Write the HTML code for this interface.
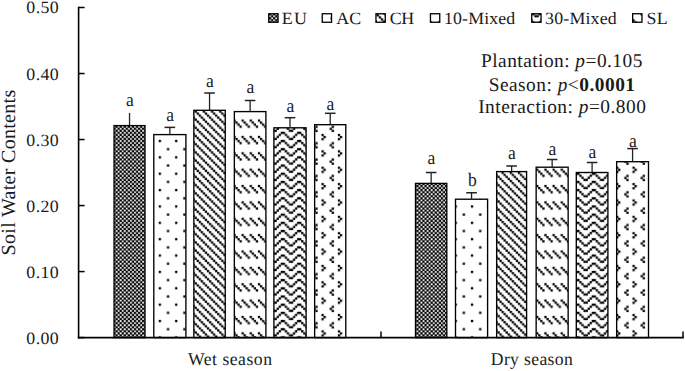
<!DOCTYPE html><html><head><meta charset="utf-8"><style>html,body{margin:0;padding:0;background:#fff;}body{width:685px;height:371px;overflow:hidden;}</style></head><body><svg width="685" height="371" viewBox="0 0 685 371" style="display:block">
<defs>
<pattern id="pEU" patternUnits="userSpaceOnUse" width="2" height="2" patternTransform="translate(3.05,0.89) scale(2.046)"><rect width="2" height="2" fill="#fff"/><g fill="#000"><rect x="-2.06" y="-2.06" width="1.12" height="1.12"/><rect x="-2.06" y="-0.06" width="1.12" height="1.12"/><rect x="-2.06" y="1.94" width="1.12" height="1.12"/><rect x="-0.06" y="-2.06" width="1.12" height="1.12"/><rect x="-0.06" y="-0.06" width="1.12" height="1.12"/><rect x="-0.06" y="1.94" width="1.12" height="1.12"/><rect x="1.94" y="-2.06" width="1.12" height="1.12"/><rect x="1.94" y="-0.06" width="1.12" height="1.12"/><rect x="1.94" y="1.94" width="1.12" height="1.12"/><rect x="-1.06" y="-1.06" width="1.12" height="1.12"/><rect x="-1.06" y="0.94" width="1.12" height="1.12"/><rect x="-1.06" y="2.94" width="1.12" height="1.12"/><rect x="0.94" y="-1.06" width="1.12" height="1.12"/><rect x="0.94" y="0.94" width="1.12" height="1.12"/><rect x="0.94" y="2.94" width="1.12" height="1.12"/><rect x="2.94" y="-1.06" width="1.12" height="1.12"/><rect x="2.94" y="0.94" width="1.12" height="1.12"/><rect x="2.94" y="2.94" width="1.12" height="1.12"/></g></pattern>
<pattern id="pAC" patternUnits="userSpaceOnUse" width="8" height="8" patternTransform="translate(11.52,9.02) scale(2.046)"><rect width="8" height="8" fill="#fff"/><g fill="#000"><rect x="-8.06" y="-8.06" width="1.12" height="1.12"/><rect x="-8.06" y="-0.06" width="1.12" height="1.12"/><rect x="-8.06" y="7.94" width="1.12" height="1.12"/><rect x="-0.06" y="-8.06" width="1.12" height="1.12"/><rect x="-0.06" y="-0.06" width="1.12" height="1.12"/><rect x="-0.06" y="7.94" width="1.12" height="1.12"/><rect x="7.94" y="-8.06" width="1.12" height="1.12"/><rect x="7.94" y="-0.06" width="1.12" height="1.12"/><rect x="7.94" y="7.94" width="1.12" height="1.12"/><rect x="-4.0600000000000005" y="-4.0600000000000005" width="1.12" height="1.12"/><rect x="-4.0600000000000005" y="3.94" width="1.12" height="1.12"/><rect x="-4.0600000000000005" y="11.94" width="1.12" height="1.12"/><rect x="3.94" y="-4.0600000000000005" width="1.12" height="1.12"/><rect x="3.94" y="3.94" width="1.12" height="1.12"/><rect x="3.94" y="11.94" width="1.12" height="1.12"/><rect x="11.94" y="-4.0600000000000005" width="1.12" height="1.12"/><rect x="11.94" y="3.94" width="1.12" height="1.12"/><rect x="11.94" y="11.94" width="1.12" height="1.12"/></g></pattern>
<pattern id="pCH" patternUnits="userSpaceOnUse" width="4" height="4" patternTransform="translate(2.39,0) scale(2.046)"><rect width="4" height="4" fill="#fff"/><g fill="#000"><rect x="-4.06" y="-4.06" width="1.12" height="1.12"/><rect x="-4.06" y="-0.06" width="1.12" height="1.12"/><rect x="-4.06" y="3.94" width="1.12" height="1.12"/><rect x="-0.06" y="-4.06" width="1.12" height="1.12"/><rect x="-0.06" y="-0.06" width="1.12" height="1.12"/><rect x="-0.06" y="3.94" width="1.12" height="1.12"/><rect x="3.94" y="-4.06" width="1.12" height="1.12"/><rect x="3.94" y="-0.06" width="1.12" height="1.12"/><rect x="3.94" y="3.94" width="1.12" height="1.12"/><rect x="-3.06" y="-3.06" width="1.12" height="1.12"/><rect x="-3.06" y="0.94" width="1.12" height="1.12"/><rect x="-3.06" y="4.9399999999999995" width="1.12" height="1.12"/><rect x="0.94" y="-3.06" width="1.12" height="1.12"/><rect x="0.94" y="0.94" width="1.12" height="1.12"/><rect x="0.94" y="4.9399999999999995" width="1.12" height="1.12"/><rect x="4.9399999999999995" y="-3.06" width="1.12" height="1.12"/><rect x="4.9399999999999995" y="0.94" width="1.12" height="1.12"/><rect x="4.9399999999999995" y="4.9399999999999995" width="1.12" height="1.12"/><rect x="-2.06" y="-2.06" width="1.12" height="1.12"/><rect x="-2.06" y="1.94" width="1.12" height="1.12"/><rect x="-2.06" y="5.9399999999999995" width="1.12" height="1.12"/><rect x="1.94" y="-2.06" width="1.12" height="1.12"/><rect x="1.94" y="1.94" width="1.12" height="1.12"/><rect x="1.94" y="5.9399999999999995" width="1.12" height="1.12"/><rect x="5.9399999999999995" y="-2.06" width="1.12" height="1.12"/><rect x="5.9399999999999995" y="1.94" width="1.12" height="1.12"/><rect x="5.9399999999999995" y="5.9399999999999995" width="1.12" height="1.12"/><rect x="-1.06" y="-1.06" width="1.12" height="1.12"/><rect x="-1.06" y="2.94" width="1.12" height="1.12"/><rect x="-1.06" y="6.9399999999999995" width="1.12" height="1.12"/><rect x="2.94" y="-1.06" width="1.12" height="1.12"/><rect x="2.94" y="2.94" width="1.12" height="1.12"/><rect x="2.94" y="6.9399999999999995" width="1.12" height="1.12"/><rect x="6.9399999999999995" y="-1.06" width="1.12" height="1.12"/><rect x="6.9399999999999995" y="2.94" width="1.12" height="1.12"/><rect x="6.9399999999999995" y="6.9399999999999995" width="1.12" height="1.12"/></g></pattern>
<pattern id="p10" patternUnits="userSpaceOnUse" width="8" height="8" patternTransform="translate(12.48,4.99) scale(2.046)"><rect width="8" height="8" fill="#fff"/><g fill="#000"><rect x="-8.06" y="-8.06" width="1.12" height="1.12"/><rect x="-8.06" y="-0.06" width="1.12" height="1.12"/><rect x="-8.06" y="7.94" width="1.12" height="1.12"/><rect x="-0.06" y="-8.06" width="1.12" height="1.12"/><rect x="-0.06" y="-0.06" width="1.12" height="1.12"/><rect x="-0.06" y="7.94" width="1.12" height="1.12"/><rect x="7.94" y="-8.06" width="1.12" height="1.12"/><rect x="7.94" y="-0.06" width="1.12" height="1.12"/><rect x="7.94" y="7.94" width="1.12" height="1.12"/><rect x="-7.0600000000000005" y="-7.0600000000000005" width="1.12" height="1.12"/><rect x="-7.0600000000000005" y="0.94" width="1.12" height="1.12"/><rect x="-7.0600000000000005" y="8.94" width="1.12" height="1.12"/><rect x="0.94" y="-7.0600000000000005" width="1.12" height="1.12"/><rect x="0.94" y="0.94" width="1.12" height="1.12"/><rect x="0.94" y="8.94" width="1.12" height="1.12"/><rect x="8.94" y="-7.0600000000000005" width="1.12" height="1.12"/><rect x="8.94" y="0.94" width="1.12" height="1.12"/><rect x="8.94" y="8.94" width="1.12" height="1.12"/><rect x="-6.0600000000000005" y="-6.0600000000000005" width="1.12" height="1.12"/><rect x="-6.0600000000000005" y="1.94" width="1.12" height="1.12"/><rect x="-6.0600000000000005" y="9.94" width="1.12" height="1.12"/><rect x="1.94" y="-6.0600000000000005" width="1.12" height="1.12"/><rect x="1.94" y="1.94" width="1.12" height="1.12"/><rect x="1.94" y="9.94" width="1.12" height="1.12"/><rect x="9.94" y="-6.0600000000000005" width="1.12" height="1.12"/><rect x="9.94" y="1.94" width="1.12" height="1.12"/><rect x="9.94" y="9.94" width="1.12" height="1.12"/><rect x="-5.0600000000000005" y="-5.0600000000000005" width="1.12" height="1.12"/><rect x="-5.0600000000000005" y="2.94" width="1.12" height="1.12"/><rect x="-5.0600000000000005" y="10.94" width="1.12" height="1.12"/><rect x="2.94" y="-5.0600000000000005" width="1.12" height="1.12"/><rect x="2.94" y="2.94" width="1.12" height="1.12"/><rect x="2.94" y="10.94" width="1.12" height="1.12"/><rect x="10.94" y="-5.0600000000000005" width="1.12" height="1.12"/><rect x="10.94" y="2.94" width="1.12" height="1.12"/><rect x="10.94" y="10.94" width="1.12" height="1.12"/><rect x="-4.0600000000000005" y="-8.06" width="1.12" height="1.12"/><rect x="-4.0600000000000005" y="-0.06" width="1.12" height="1.12"/><rect x="-4.0600000000000005" y="7.94" width="1.12" height="1.12"/><rect x="3.94" y="-8.06" width="1.12" height="1.12"/><rect x="3.94" y="-0.06" width="1.12" height="1.12"/><rect x="3.94" y="7.94" width="1.12" height="1.12"/><rect x="11.94" y="-8.06" width="1.12" height="1.12"/><rect x="11.94" y="-0.06" width="1.12" height="1.12"/><rect x="11.94" y="7.94" width="1.12" height="1.12"/><rect x="-3.0599999999999996" y="-7.0600000000000005" width="1.12" height="1.12"/><rect x="-3.0599999999999996" y="0.94" width="1.12" height="1.12"/><rect x="-3.0599999999999996" y="8.94" width="1.12" height="1.12"/><rect x="4.94" y="-7.0600000000000005" width="1.12" height="1.12"/><rect x="4.94" y="0.94" width="1.12" height="1.12"/><rect x="4.94" y="8.94" width="1.12" height="1.12"/><rect x="12.940000000000001" y="-7.0600000000000005" width="1.12" height="1.12"/><rect x="12.940000000000001" y="0.94" width="1.12" height="1.12"/><rect x="12.940000000000001" y="8.94" width="1.12" height="1.12"/><rect x="-2.0599999999999996" y="-6.0600000000000005" width="1.12" height="1.12"/><rect x="-2.0599999999999996" y="1.94" width="1.12" height="1.12"/><rect x="-2.0599999999999996" y="9.94" width="1.12" height="1.12"/><rect x="5.94" y="-6.0600000000000005" width="1.12" height="1.12"/><rect x="5.94" y="1.94" width="1.12" height="1.12"/><rect x="5.94" y="9.94" width="1.12" height="1.12"/><rect x="13.940000000000001" y="-6.0600000000000005" width="1.12" height="1.12"/><rect x="13.940000000000001" y="1.94" width="1.12" height="1.12"/><rect x="13.940000000000001" y="9.94" width="1.12" height="1.12"/><rect x="-1.0599999999999996" y="-5.0600000000000005" width="1.12" height="1.12"/><rect x="-1.0599999999999996" y="2.94" width="1.12" height="1.12"/><rect x="-1.0599999999999996" y="10.94" width="1.12" height="1.12"/><rect x="6.94" y="-5.0600000000000005" width="1.12" height="1.12"/><rect x="6.94" y="2.94" width="1.12" height="1.12"/><rect x="6.94" y="10.94" width="1.12" height="1.12"/><rect x="14.940000000000001" y="-5.0600000000000005" width="1.12" height="1.12"/><rect x="14.940000000000001" y="2.94" width="1.12" height="1.12"/><rect x="14.940000000000001" y="10.94" width="1.12" height="1.12"/></g></pattern>
<pattern id="p30" patternUnits="userSpaceOnUse" width="8" height="4" patternTransform="translate(2.54,0.88) scale(2.046)"><rect width="8" height="4" fill="#fff"/><g fill="#000"><rect x="-8.06" y="-4.06" width="1.12" height="1.12"/><rect x="-8.06" y="-0.06" width="1.12" height="1.12"/><rect x="-8.06" y="3.94" width="1.12" height="1.12"/><rect x="-0.06" y="-4.06" width="1.12" height="1.12"/><rect x="-0.06" y="-0.06" width="1.12" height="1.12"/><rect x="-0.06" y="3.94" width="1.12" height="1.12"/><rect x="7.94" y="-4.06" width="1.12" height="1.12"/><rect x="7.94" y="-0.06" width="1.12" height="1.12"/><rect x="7.94" y="3.94" width="1.12" height="1.12"/><rect x="-7.0600000000000005" y="-4.06" width="1.12" height="1.12"/><rect x="-7.0600000000000005" y="-0.06" width="1.12" height="1.12"/><rect x="-7.0600000000000005" y="3.94" width="1.12" height="1.12"/><rect x="0.94" y="-4.06" width="1.12" height="1.12"/><rect x="0.94" y="-0.06" width="1.12" height="1.12"/><rect x="0.94" y="3.94" width="1.12" height="1.12"/><rect x="8.94" y="-4.06" width="1.12" height="1.12"/><rect x="8.94" y="-0.06" width="1.12" height="1.12"/><rect x="8.94" y="3.94" width="1.12" height="1.12"/><rect x="-6.0600000000000005" y="-3.06" width="1.12" height="1.12"/><rect x="-6.0600000000000005" y="0.94" width="1.12" height="1.12"/><rect x="-6.0600000000000005" y="4.9399999999999995" width="1.12" height="1.12"/><rect x="1.94" y="-3.06" width="1.12" height="1.12"/><rect x="1.94" y="0.94" width="1.12" height="1.12"/><rect x="1.94" y="4.9399999999999995" width="1.12" height="1.12"/><rect x="9.94" y="-3.06" width="1.12" height="1.12"/><rect x="9.94" y="0.94" width="1.12" height="1.12"/><rect x="9.94" y="4.9399999999999995" width="1.12" height="1.12"/><rect x="-5.0600000000000005" y="-2.06" width="1.12" height="1.12"/><rect x="-5.0600000000000005" y="1.94" width="1.12" height="1.12"/><rect x="-5.0600000000000005" y="5.9399999999999995" width="1.12" height="1.12"/><rect x="2.94" y="-2.06" width="1.12" height="1.12"/><rect x="2.94" y="1.94" width="1.12" height="1.12"/><rect x="2.94" y="5.9399999999999995" width="1.12" height="1.12"/><rect x="10.94" y="-2.06" width="1.12" height="1.12"/><rect x="10.94" y="1.94" width="1.12" height="1.12"/><rect x="10.94" y="5.9399999999999995" width="1.12" height="1.12"/><rect x="-4.0600000000000005" y="-1.06" width="1.12" height="1.12"/><rect x="-4.0600000000000005" y="2.94" width="1.12" height="1.12"/><rect x="-4.0600000000000005" y="6.9399999999999995" width="1.12" height="1.12"/><rect x="3.94" y="-1.06" width="1.12" height="1.12"/><rect x="3.94" y="2.94" width="1.12" height="1.12"/><rect x="3.94" y="6.9399999999999995" width="1.12" height="1.12"/><rect x="11.94" y="-1.06" width="1.12" height="1.12"/><rect x="11.94" y="2.94" width="1.12" height="1.12"/><rect x="11.94" y="6.9399999999999995" width="1.12" height="1.12"/><rect x="-3.0599999999999996" y="-1.06" width="1.12" height="1.12"/><rect x="-3.0599999999999996" y="2.94" width="1.12" height="1.12"/><rect x="-3.0599999999999996" y="6.9399999999999995" width="1.12" height="1.12"/><rect x="4.94" y="-1.06" width="1.12" height="1.12"/><rect x="4.94" y="2.94" width="1.12" height="1.12"/><rect x="4.94" y="6.9399999999999995" width="1.12" height="1.12"/><rect x="12.940000000000001" y="-1.06" width="1.12" height="1.12"/><rect x="12.940000000000001" y="2.94" width="1.12" height="1.12"/><rect x="12.940000000000001" y="6.9399999999999995" width="1.12" height="1.12"/><rect x="-2.0599999999999996" y="-2.06" width="1.12" height="1.12"/><rect x="-2.0599999999999996" y="1.94" width="1.12" height="1.12"/><rect x="-2.0599999999999996" y="5.9399999999999995" width="1.12" height="1.12"/><rect x="5.94" y="-2.06" width="1.12" height="1.12"/><rect x="5.94" y="1.94" width="1.12" height="1.12"/><rect x="5.94" y="5.9399999999999995" width="1.12" height="1.12"/><rect x="13.940000000000001" y="-2.06" width="1.12" height="1.12"/><rect x="13.940000000000001" y="1.94" width="1.12" height="1.12"/><rect x="13.940000000000001" y="5.9399999999999995" width="1.12" height="1.12"/><rect x="-1.0599999999999996" y="-3.06" width="1.12" height="1.12"/><rect x="-1.0599999999999996" y="0.94" width="1.12" height="1.12"/><rect x="-1.0599999999999996" y="4.9399999999999995" width="1.12" height="1.12"/><rect x="6.94" y="-3.06" width="1.12" height="1.12"/><rect x="6.94" y="0.94" width="1.12" height="1.12"/><rect x="6.94" y="4.9399999999999995" width="1.12" height="1.12"/><rect x="14.940000000000001" y="-3.06" width="1.12" height="1.12"/><rect x="14.940000000000001" y="0.94" width="1.12" height="1.12"/><rect x="14.940000000000001" y="4.9399999999999995" width="1.12" height="1.12"/></g></pattern>
<pattern id="pSL" patternUnits="userSpaceOnUse" width="8" height="8" patternTransform="translate(10.59,3.06) scale(2.046)"><rect width="8" height="8" fill="#fff"/><g fill="#000"><rect x="-8.06" y="-8.06" width="1.12" height="1.12"/><rect x="-8.06" y="-0.06" width="1.12" height="1.12"/><rect x="-8.06" y="7.94" width="1.12" height="1.12"/><rect x="-0.06" y="-8.06" width="1.12" height="1.12"/><rect x="-0.06" y="-0.06" width="1.12" height="1.12"/><rect x="-0.06" y="7.94" width="1.12" height="1.12"/><rect x="7.94" y="-8.06" width="1.12" height="1.12"/><rect x="7.94" y="-0.06" width="1.12" height="1.12"/><rect x="7.94" y="7.94" width="1.12" height="1.12"/><rect x="-7.0600000000000005" y="-7.0600000000000005" width="1.12" height="1.12"/><rect x="-7.0600000000000005" y="0.94" width="1.12" height="1.12"/><rect x="-7.0600000000000005" y="8.94" width="1.12" height="1.12"/><rect x="0.94" y="-7.0600000000000005" width="1.12" height="1.12"/><rect x="0.94" y="0.94" width="1.12" height="1.12"/><rect x="0.94" y="8.94" width="1.12" height="1.12"/><rect x="8.94" y="-7.0600000000000005" width="1.12" height="1.12"/><rect x="8.94" y="0.94" width="1.12" height="1.12"/><rect x="8.94" y="8.94" width="1.12" height="1.12"/><rect x="-8.06" y="-6.0600000000000005" width="1.12" height="1.12"/><rect x="-8.06" y="1.94" width="1.12" height="1.12"/><rect x="-8.06" y="9.94" width="1.12" height="1.12"/><rect x="-0.06" y="-6.0600000000000005" width="1.12" height="1.12"/><rect x="-0.06" y="1.94" width="1.12" height="1.12"/><rect x="-0.06" y="9.94" width="1.12" height="1.12"/><rect x="7.94" y="-6.0600000000000005" width="1.12" height="1.12"/><rect x="7.94" y="1.94" width="1.12" height="1.12"/><rect x="7.94" y="9.94" width="1.12" height="1.12"/><rect x="-3.0599999999999996" y="-4.0600000000000005" width="1.12" height="1.12"/><rect x="-3.0599999999999996" y="3.94" width="1.12" height="1.12"/><rect x="-3.0599999999999996" y="11.94" width="1.12" height="1.12"/><rect x="4.94" y="-4.0600000000000005" width="1.12" height="1.12"/><rect x="4.94" y="3.94" width="1.12" height="1.12"/><rect x="4.94" y="11.94" width="1.12" height="1.12"/><rect x="12.940000000000001" y="-4.0600000000000005" width="1.12" height="1.12"/><rect x="12.940000000000001" y="3.94" width="1.12" height="1.12"/><rect x="12.940000000000001" y="11.94" width="1.12" height="1.12"/><rect x="-4.0600000000000005" y="-3.0599999999999996" width="1.12" height="1.12"/><rect x="-4.0600000000000005" y="4.94" width="1.12" height="1.12"/><rect x="-4.0600000000000005" y="12.940000000000001" width="1.12" height="1.12"/><rect x="3.94" y="-3.0599999999999996" width="1.12" height="1.12"/><rect x="3.94" y="4.94" width="1.12" height="1.12"/><rect x="3.94" y="12.940000000000001" width="1.12" height="1.12"/><rect x="11.94" y="-3.0599999999999996" width="1.12" height="1.12"/><rect x="11.94" y="4.94" width="1.12" height="1.12"/><rect x="11.94" y="12.940000000000001" width="1.12" height="1.12"/><rect x="-3.0599999999999996" y="-2.0599999999999996" width="1.12" height="1.12"/><rect x="-3.0599999999999996" y="5.94" width="1.12" height="1.12"/><rect x="-3.0599999999999996" y="13.940000000000001" width="1.12" height="1.12"/><rect x="4.94" y="-2.0599999999999996" width="1.12" height="1.12"/><rect x="4.94" y="5.94" width="1.12" height="1.12"/><rect x="4.94" y="13.940000000000001" width="1.12" height="1.12"/><rect x="12.940000000000001" y="-2.0599999999999996" width="1.12" height="1.12"/><rect x="12.940000000000001" y="5.94" width="1.12" height="1.12"/><rect x="12.940000000000001" y="13.940000000000001" width="1.12" height="1.12"/></g></pattern>
<pattern id="pEUd" patternUnits="userSpaceOnUse" width="2" height="2" patternTransform="translate(3.05,0.89) scale(2.046)"><rect width="2" height="2" fill="#fff"/><g fill="#000"><rect x="-2.06" y="-2.06" width="1.12" height="1.12"/><rect x="-2.06" y="-0.06" width="1.12" height="1.12"/><rect x="-2.06" y="1.94" width="1.12" height="1.12"/><rect x="-0.06" y="-2.06" width="1.12" height="1.12"/><rect x="-0.06" y="-0.06" width="1.12" height="1.12"/><rect x="-0.06" y="1.94" width="1.12" height="1.12"/><rect x="1.94" y="-2.06" width="1.12" height="1.12"/><rect x="1.94" y="-0.06" width="1.12" height="1.12"/><rect x="1.94" y="1.94" width="1.12" height="1.12"/><rect x="-1.06" y="-1.06" width="1.12" height="1.12"/><rect x="-1.06" y="0.94" width="1.12" height="1.12"/><rect x="-1.06" y="2.94" width="1.12" height="1.12"/><rect x="0.94" y="-1.06" width="1.12" height="1.12"/><rect x="0.94" y="0.94" width="1.12" height="1.12"/><rect x="0.94" y="2.94" width="1.12" height="1.12"/><rect x="2.94" y="-1.06" width="1.12" height="1.12"/><rect x="2.94" y="0.94" width="1.12" height="1.12"/><rect x="2.94" y="2.94" width="1.12" height="1.12"/></g></pattern>
<pattern id="pACd" patternUnits="userSpaceOnUse" width="8" height="8" patternTransform="translate(12.719999999999999,9.02) scale(2.046)"><rect width="8" height="8" fill="#fff"/><g fill="#000"><rect x="-8.06" y="-8.06" width="1.12" height="1.12"/><rect x="-8.06" y="-0.06" width="1.12" height="1.12"/><rect x="-8.06" y="7.94" width="1.12" height="1.12"/><rect x="-0.06" y="-8.06" width="1.12" height="1.12"/><rect x="-0.06" y="-0.06" width="1.12" height="1.12"/><rect x="-0.06" y="7.94" width="1.12" height="1.12"/><rect x="7.94" y="-8.06" width="1.12" height="1.12"/><rect x="7.94" y="-0.06" width="1.12" height="1.12"/><rect x="7.94" y="7.94" width="1.12" height="1.12"/><rect x="-4.0600000000000005" y="-4.0600000000000005" width="1.12" height="1.12"/><rect x="-4.0600000000000005" y="3.94" width="1.12" height="1.12"/><rect x="-4.0600000000000005" y="11.94" width="1.12" height="1.12"/><rect x="3.94" y="-4.0600000000000005" width="1.12" height="1.12"/><rect x="3.94" y="3.94" width="1.12" height="1.12"/><rect x="3.94" y="11.94" width="1.12" height="1.12"/><rect x="11.94" y="-4.0600000000000005" width="1.12" height="1.12"/><rect x="11.94" y="3.94" width="1.12" height="1.12"/><rect x="11.94" y="11.94" width="1.12" height="1.12"/></g></pattern>
<pattern id="pCHd" patternUnits="userSpaceOnUse" width="4" height="4" patternTransform="translate(2.39,0) scale(2.046)"><rect width="4" height="4" fill="#fff"/><g fill="#000"><rect x="-4.06" y="-4.06" width="1.12" height="1.12"/><rect x="-4.06" y="-0.06" width="1.12" height="1.12"/><rect x="-4.06" y="3.94" width="1.12" height="1.12"/><rect x="-0.06" y="-4.06" width="1.12" height="1.12"/><rect x="-0.06" y="-0.06" width="1.12" height="1.12"/><rect x="-0.06" y="3.94" width="1.12" height="1.12"/><rect x="3.94" y="-4.06" width="1.12" height="1.12"/><rect x="3.94" y="-0.06" width="1.12" height="1.12"/><rect x="3.94" y="3.94" width="1.12" height="1.12"/><rect x="-3.06" y="-3.06" width="1.12" height="1.12"/><rect x="-3.06" y="0.94" width="1.12" height="1.12"/><rect x="-3.06" y="4.9399999999999995" width="1.12" height="1.12"/><rect x="0.94" y="-3.06" width="1.12" height="1.12"/><rect x="0.94" y="0.94" width="1.12" height="1.12"/><rect x="0.94" y="4.9399999999999995" width="1.12" height="1.12"/><rect x="4.9399999999999995" y="-3.06" width="1.12" height="1.12"/><rect x="4.9399999999999995" y="0.94" width="1.12" height="1.12"/><rect x="4.9399999999999995" y="4.9399999999999995" width="1.12" height="1.12"/><rect x="-2.06" y="-2.06" width="1.12" height="1.12"/><rect x="-2.06" y="1.94" width="1.12" height="1.12"/><rect x="-2.06" y="5.9399999999999995" width="1.12" height="1.12"/><rect x="1.94" y="-2.06" width="1.12" height="1.12"/><rect x="1.94" y="1.94" width="1.12" height="1.12"/><rect x="1.94" y="5.9399999999999995" width="1.12" height="1.12"/><rect x="5.9399999999999995" y="-2.06" width="1.12" height="1.12"/><rect x="5.9399999999999995" y="1.94" width="1.12" height="1.12"/><rect x="5.9399999999999995" y="5.9399999999999995" width="1.12" height="1.12"/><rect x="-1.06" y="-1.06" width="1.12" height="1.12"/><rect x="-1.06" y="2.94" width="1.12" height="1.12"/><rect x="-1.06" y="6.9399999999999995" width="1.12" height="1.12"/><rect x="2.94" y="-1.06" width="1.12" height="1.12"/><rect x="2.94" y="2.94" width="1.12" height="1.12"/><rect x="2.94" y="6.9399999999999995" width="1.12" height="1.12"/><rect x="6.9399999999999995" y="-1.06" width="1.12" height="1.12"/><rect x="6.9399999999999995" y="2.94" width="1.12" height="1.12"/><rect x="6.9399999999999995" y="6.9399999999999995" width="1.12" height="1.12"/></g></pattern>
<pattern id="p10d" patternUnits="userSpaceOnUse" width="8" height="8" patternTransform="translate(12.48,4.99) scale(2.046)"><rect width="8" height="8" fill="#fff"/><g fill="#000"><rect x="-8.06" y="-8.06" width="1.12" height="1.12"/><rect x="-8.06" y="-0.06" width="1.12" height="1.12"/><rect x="-8.06" y="7.94" width="1.12" height="1.12"/><rect x="-0.06" y="-8.06" width="1.12" height="1.12"/><rect x="-0.06" y="-0.06" width="1.12" height="1.12"/><rect x="-0.06" y="7.94" width="1.12" height="1.12"/><rect x="7.94" y="-8.06" width="1.12" height="1.12"/><rect x="7.94" y="-0.06" width="1.12" height="1.12"/><rect x="7.94" y="7.94" width="1.12" height="1.12"/><rect x="-7.0600000000000005" y="-7.0600000000000005" width="1.12" height="1.12"/><rect x="-7.0600000000000005" y="0.94" width="1.12" height="1.12"/><rect x="-7.0600000000000005" y="8.94" width="1.12" height="1.12"/><rect x="0.94" y="-7.0600000000000005" width="1.12" height="1.12"/><rect x="0.94" y="0.94" width="1.12" height="1.12"/><rect x="0.94" y="8.94" width="1.12" height="1.12"/><rect x="8.94" y="-7.0600000000000005" width="1.12" height="1.12"/><rect x="8.94" y="0.94" width="1.12" height="1.12"/><rect x="8.94" y="8.94" width="1.12" height="1.12"/><rect x="-6.0600000000000005" y="-6.0600000000000005" width="1.12" height="1.12"/><rect x="-6.0600000000000005" y="1.94" width="1.12" height="1.12"/><rect x="-6.0600000000000005" y="9.94" width="1.12" height="1.12"/><rect x="1.94" y="-6.0600000000000005" width="1.12" height="1.12"/><rect x="1.94" y="1.94" width="1.12" height="1.12"/><rect x="1.94" y="9.94" width="1.12" height="1.12"/><rect x="9.94" y="-6.0600000000000005" width="1.12" height="1.12"/><rect x="9.94" y="1.94" width="1.12" height="1.12"/><rect x="9.94" y="9.94" width="1.12" height="1.12"/><rect x="-5.0600000000000005" y="-5.0600000000000005" width="1.12" height="1.12"/><rect x="-5.0600000000000005" y="2.94" width="1.12" height="1.12"/><rect x="-5.0600000000000005" y="10.94" width="1.12" height="1.12"/><rect x="2.94" y="-5.0600000000000005" width="1.12" height="1.12"/><rect x="2.94" y="2.94" width="1.12" height="1.12"/><rect x="2.94" y="10.94" width="1.12" height="1.12"/><rect x="10.94" y="-5.0600000000000005" width="1.12" height="1.12"/><rect x="10.94" y="2.94" width="1.12" height="1.12"/><rect x="10.94" y="10.94" width="1.12" height="1.12"/><rect x="-4.0600000000000005" y="-8.06" width="1.12" height="1.12"/><rect x="-4.0600000000000005" y="-0.06" width="1.12" height="1.12"/><rect x="-4.0600000000000005" y="7.94" width="1.12" height="1.12"/><rect x="3.94" y="-8.06" width="1.12" height="1.12"/><rect x="3.94" y="-0.06" width="1.12" height="1.12"/><rect x="3.94" y="7.94" width="1.12" height="1.12"/><rect x="11.94" y="-8.06" width="1.12" height="1.12"/><rect x="11.94" y="-0.06" width="1.12" height="1.12"/><rect x="11.94" y="7.94" width="1.12" height="1.12"/><rect x="-3.0599999999999996" y="-7.0600000000000005" width="1.12" height="1.12"/><rect x="-3.0599999999999996" y="0.94" width="1.12" height="1.12"/><rect x="-3.0599999999999996" y="8.94" width="1.12" height="1.12"/><rect x="4.94" y="-7.0600000000000005" width="1.12" height="1.12"/><rect x="4.94" y="0.94" width="1.12" height="1.12"/><rect x="4.94" y="8.94" width="1.12" height="1.12"/><rect x="12.940000000000001" y="-7.0600000000000005" width="1.12" height="1.12"/><rect x="12.940000000000001" y="0.94" width="1.12" height="1.12"/><rect x="12.940000000000001" y="8.94" width="1.12" height="1.12"/><rect x="-2.0599999999999996" y="-6.0600000000000005" width="1.12" height="1.12"/><rect x="-2.0599999999999996" y="1.94" width="1.12" height="1.12"/><rect x="-2.0599999999999996" y="9.94" width="1.12" height="1.12"/><rect x="5.94" y="-6.0600000000000005" width="1.12" height="1.12"/><rect x="5.94" y="1.94" width="1.12" height="1.12"/><rect x="5.94" y="9.94" width="1.12" height="1.12"/><rect x="13.940000000000001" y="-6.0600000000000005" width="1.12" height="1.12"/><rect x="13.940000000000001" y="1.94" width="1.12" height="1.12"/><rect x="13.940000000000001" y="9.94" width="1.12" height="1.12"/><rect x="-1.0599999999999996" y="-5.0600000000000005" width="1.12" height="1.12"/><rect x="-1.0599999999999996" y="2.94" width="1.12" height="1.12"/><rect x="-1.0599999999999996" y="10.94" width="1.12" height="1.12"/><rect x="6.94" y="-5.0600000000000005" width="1.12" height="1.12"/><rect x="6.94" y="2.94" width="1.12" height="1.12"/><rect x="6.94" y="10.94" width="1.12" height="1.12"/><rect x="14.940000000000001" y="-5.0600000000000005" width="1.12" height="1.12"/><rect x="14.940000000000001" y="2.94" width="1.12" height="1.12"/><rect x="14.940000000000001" y="10.94" width="1.12" height="1.12"/></g></pattern>
<pattern id="p30d" patternUnits="userSpaceOnUse" width="8" height="4" patternTransform="translate(2.54,0.88) scale(2.046)"><rect width="8" height="4" fill="#fff"/><g fill="#000"><rect x="-8.06" y="-4.06" width="1.12" height="1.12"/><rect x="-8.06" y="-0.06" width="1.12" height="1.12"/><rect x="-8.06" y="3.94" width="1.12" height="1.12"/><rect x="-0.06" y="-4.06" width="1.12" height="1.12"/><rect x="-0.06" y="-0.06" width="1.12" height="1.12"/><rect x="-0.06" y="3.94" width="1.12" height="1.12"/><rect x="7.94" y="-4.06" width="1.12" height="1.12"/><rect x="7.94" y="-0.06" width="1.12" height="1.12"/><rect x="7.94" y="3.94" width="1.12" height="1.12"/><rect x="-7.0600000000000005" y="-4.06" width="1.12" height="1.12"/><rect x="-7.0600000000000005" y="-0.06" width="1.12" height="1.12"/><rect x="-7.0600000000000005" y="3.94" width="1.12" height="1.12"/><rect x="0.94" y="-4.06" width="1.12" height="1.12"/><rect x="0.94" y="-0.06" width="1.12" height="1.12"/><rect x="0.94" y="3.94" width="1.12" height="1.12"/><rect x="8.94" y="-4.06" width="1.12" height="1.12"/><rect x="8.94" y="-0.06" width="1.12" height="1.12"/><rect x="8.94" y="3.94" width="1.12" height="1.12"/><rect x="-6.0600000000000005" y="-3.06" width="1.12" height="1.12"/><rect x="-6.0600000000000005" y="0.94" width="1.12" height="1.12"/><rect x="-6.0600000000000005" y="4.9399999999999995" width="1.12" height="1.12"/><rect x="1.94" y="-3.06" width="1.12" height="1.12"/><rect x="1.94" y="0.94" width="1.12" height="1.12"/><rect x="1.94" y="4.9399999999999995" width="1.12" height="1.12"/><rect x="9.94" y="-3.06" width="1.12" height="1.12"/><rect x="9.94" y="0.94" width="1.12" height="1.12"/><rect x="9.94" y="4.9399999999999995" width="1.12" height="1.12"/><rect x="-5.0600000000000005" y="-2.06" width="1.12" height="1.12"/><rect x="-5.0600000000000005" y="1.94" width="1.12" height="1.12"/><rect x="-5.0600000000000005" y="5.9399999999999995" width="1.12" height="1.12"/><rect x="2.94" y="-2.06" width="1.12" height="1.12"/><rect x="2.94" y="1.94" width="1.12" height="1.12"/><rect x="2.94" y="5.9399999999999995" width="1.12" height="1.12"/><rect x="10.94" y="-2.06" width="1.12" height="1.12"/><rect x="10.94" y="1.94" width="1.12" height="1.12"/><rect x="10.94" y="5.9399999999999995" width="1.12" height="1.12"/><rect x="-4.0600000000000005" y="-1.06" width="1.12" height="1.12"/><rect x="-4.0600000000000005" y="2.94" width="1.12" height="1.12"/><rect x="-4.0600000000000005" y="6.9399999999999995" width="1.12" height="1.12"/><rect x="3.94" y="-1.06" width="1.12" height="1.12"/><rect x="3.94" y="2.94" width="1.12" height="1.12"/><rect x="3.94" y="6.9399999999999995" width="1.12" height="1.12"/><rect x="11.94" y="-1.06" width="1.12" height="1.12"/><rect x="11.94" y="2.94" width="1.12" height="1.12"/><rect x="11.94" y="6.9399999999999995" width="1.12" height="1.12"/><rect x="-3.0599999999999996" y="-1.06" width="1.12" height="1.12"/><rect x="-3.0599999999999996" y="2.94" width="1.12" height="1.12"/><rect x="-3.0599999999999996" y="6.9399999999999995" width="1.12" height="1.12"/><rect x="4.94" y="-1.06" width="1.12" height="1.12"/><rect x="4.94" y="2.94" width="1.12" height="1.12"/><rect x="4.94" y="6.9399999999999995" width="1.12" height="1.12"/><rect x="12.940000000000001" y="-1.06" width="1.12" height="1.12"/><rect x="12.940000000000001" y="2.94" width="1.12" height="1.12"/><rect x="12.940000000000001" y="6.9399999999999995" width="1.12" height="1.12"/><rect x="-2.0599999999999996" y="-2.06" width="1.12" height="1.12"/><rect x="-2.0599999999999996" y="1.94" width="1.12" height="1.12"/><rect x="-2.0599999999999996" y="5.9399999999999995" width="1.12" height="1.12"/><rect x="5.94" y="-2.06" width="1.12" height="1.12"/><rect x="5.94" y="1.94" width="1.12" height="1.12"/><rect x="5.94" y="5.9399999999999995" width="1.12" height="1.12"/><rect x="13.940000000000001" y="-2.06" width="1.12" height="1.12"/><rect x="13.940000000000001" y="1.94" width="1.12" height="1.12"/><rect x="13.940000000000001" y="5.9399999999999995" width="1.12" height="1.12"/><rect x="-1.0599999999999996" y="-3.06" width="1.12" height="1.12"/><rect x="-1.0599999999999996" y="0.94" width="1.12" height="1.12"/><rect x="-1.0599999999999996" y="4.9399999999999995" width="1.12" height="1.12"/><rect x="6.94" y="-3.06" width="1.12" height="1.12"/><rect x="6.94" y="0.94" width="1.12" height="1.12"/><rect x="6.94" y="4.9399999999999995" width="1.12" height="1.12"/><rect x="14.940000000000001" y="-3.06" width="1.12" height="1.12"/><rect x="14.940000000000001" y="0.94" width="1.12" height="1.12"/><rect x="14.940000000000001" y="4.9399999999999995" width="1.12" height="1.12"/></g></pattern>
<pattern id="pSLd" patternUnits="userSpaceOnUse" width="8" height="8" patternTransform="translate(10.59,3.06) scale(2.046)"><rect width="8" height="8" fill="#fff"/><g fill="#000"><rect x="-8.06" y="-8.06" width="1.12" height="1.12"/><rect x="-8.06" y="-0.06" width="1.12" height="1.12"/><rect x="-8.06" y="7.94" width="1.12" height="1.12"/><rect x="-0.06" y="-8.06" width="1.12" height="1.12"/><rect x="-0.06" y="-0.06" width="1.12" height="1.12"/><rect x="-0.06" y="7.94" width="1.12" height="1.12"/><rect x="7.94" y="-8.06" width="1.12" height="1.12"/><rect x="7.94" y="-0.06" width="1.12" height="1.12"/><rect x="7.94" y="7.94" width="1.12" height="1.12"/><rect x="-7.0600000000000005" y="-7.0600000000000005" width="1.12" height="1.12"/><rect x="-7.0600000000000005" y="0.94" width="1.12" height="1.12"/><rect x="-7.0600000000000005" y="8.94" width="1.12" height="1.12"/><rect x="0.94" y="-7.0600000000000005" width="1.12" height="1.12"/><rect x="0.94" y="0.94" width="1.12" height="1.12"/><rect x="0.94" y="8.94" width="1.12" height="1.12"/><rect x="8.94" y="-7.0600000000000005" width="1.12" height="1.12"/><rect x="8.94" y="0.94" width="1.12" height="1.12"/><rect x="8.94" y="8.94" width="1.12" height="1.12"/><rect x="-8.06" y="-6.0600000000000005" width="1.12" height="1.12"/><rect x="-8.06" y="1.94" width="1.12" height="1.12"/><rect x="-8.06" y="9.94" width="1.12" height="1.12"/><rect x="-0.06" y="-6.0600000000000005" width="1.12" height="1.12"/><rect x="-0.06" y="1.94" width="1.12" height="1.12"/><rect x="-0.06" y="9.94" width="1.12" height="1.12"/><rect x="7.94" y="-6.0600000000000005" width="1.12" height="1.12"/><rect x="7.94" y="1.94" width="1.12" height="1.12"/><rect x="7.94" y="9.94" width="1.12" height="1.12"/><rect x="-3.0599999999999996" y="-4.0600000000000005" width="1.12" height="1.12"/><rect x="-3.0599999999999996" y="3.94" width="1.12" height="1.12"/><rect x="-3.0599999999999996" y="11.94" width="1.12" height="1.12"/><rect x="4.94" y="-4.0600000000000005" width="1.12" height="1.12"/><rect x="4.94" y="3.94" width="1.12" height="1.12"/><rect x="4.94" y="11.94" width="1.12" height="1.12"/><rect x="12.940000000000001" y="-4.0600000000000005" width="1.12" height="1.12"/><rect x="12.940000000000001" y="3.94" width="1.12" height="1.12"/><rect x="12.940000000000001" y="11.94" width="1.12" height="1.12"/><rect x="-4.0600000000000005" y="-3.0599999999999996" width="1.12" height="1.12"/><rect x="-4.0600000000000005" y="4.94" width="1.12" height="1.12"/><rect x="-4.0600000000000005" y="12.940000000000001" width="1.12" height="1.12"/><rect x="3.94" y="-3.0599999999999996" width="1.12" height="1.12"/><rect x="3.94" y="4.94" width="1.12" height="1.12"/><rect x="3.94" y="12.940000000000001" width="1.12" height="1.12"/><rect x="11.94" y="-3.0599999999999996" width="1.12" height="1.12"/><rect x="11.94" y="4.94" width="1.12" height="1.12"/><rect x="11.94" y="12.940000000000001" width="1.12" height="1.12"/><rect x="-3.0599999999999996" y="-2.0599999999999996" width="1.12" height="1.12"/><rect x="-3.0599999999999996" y="5.94" width="1.12" height="1.12"/><rect x="-3.0599999999999996" y="13.940000000000001" width="1.12" height="1.12"/><rect x="4.94" y="-2.0599999999999996" width="1.12" height="1.12"/><rect x="4.94" y="5.94" width="1.12" height="1.12"/><rect x="4.94" y="13.940000000000001" width="1.12" height="1.12"/><rect x="12.940000000000001" y="-2.0599999999999996" width="1.12" height="1.12"/><rect x="12.940000000000001" y="5.94" width="1.12" height="1.12"/><rect x="12.940000000000001" y="13.940000000000001" width="1.12" height="1.12"/></g></pattern>
</defs>
<rect width="685" height="371" fill="#fff"/>
<rect x="114.05" y="125.60" width="30.95" height="212.00" fill="url(#pEU)" stroke="#000" stroke-width="1.35"/>
<line x1="129.53" y1="125.30" x2="129.53" y2="112.90" stroke="#222" stroke-width="1.3"/>
<rect x="153.80" y="134.60" width="32.10" height="203.00" fill="url(#pAC)" stroke="#000" stroke-width="1.35"/>
<line x1="169.85" y1="134.30" x2="169.85" y2="127.40" stroke="#222" stroke-width="1.3"/>
<line x1="164.55" y1="127.40" x2="175.15" y2="127.40" stroke="#222" stroke-width="1.5"/>
<rect x="193.85" y="110.30" width="31.40" height="227.30" fill="url(#pCH)" stroke="#000" stroke-width="1.35"/>
<line x1="209.55" y1="110.00" x2="209.55" y2="93.00" stroke="#222" stroke-width="1.3"/>
<line x1="204.25" y1="93.00" x2="214.85" y2="93.00" stroke="#222" stroke-width="1.5"/>
<rect x="234.35" y="111.60" width="31.55" height="226.00" fill="url(#p10)" stroke="#000" stroke-width="1.35"/>
<line x1="250.12" y1="111.30" x2="250.12" y2="100.50" stroke="#222" stroke-width="1.3"/>
<line x1="244.82" y1="100.50" x2="255.43" y2="100.50" stroke="#222" stroke-width="1.5"/>
<rect x="273.90" y="127.80" width="32.20" height="209.80" fill="url(#p30)" stroke="#000" stroke-width="1.35"/>
<line x1="290.00" y1="127.50" x2="290.00" y2="117.70" stroke="#222" stroke-width="1.3"/>
<line x1="284.70" y1="117.70" x2="295.30" y2="117.70" stroke="#222" stroke-width="1.5"/>
<rect x="314.65" y="124.70" width="31.15" height="212.90" fill="url(#pSL)" stroke="#000" stroke-width="1.35"/>
<line x1="330.23" y1="124.40" x2="330.23" y2="113.30" stroke="#222" stroke-width="1.3"/>
<line x1="324.93" y1="113.30" x2="335.53" y2="113.30" stroke="#222" stroke-width="1.5"/>
<rect x="415.50" y="183.40" width="31.30" height="154.20" fill="url(#pEUd)" stroke="#000" stroke-width="1.35"/>
<line x1="431.15" y1="183.10" x2="431.15" y2="172.50" stroke="#222" stroke-width="1.3"/>
<line x1="425.85" y1="172.50" x2="436.45" y2="172.50" stroke="#222" stroke-width="1.5"/>
<rect x="455.50" y="199.20" width="32.10" height="138.40" fill="url(#pACd)" stroke="#000" stroke-width="1.35"/>
<line x1="471.55" y1="198.90" x2="471.55" y2="192.75" stroke="#222" stroke-width="1.3"/>
<line x1="466.25" y1="192.75" x2="476.85" y2="192.75" stroke="#222" stroke-width="1.5"/>
<rect x="496.65" y="171.60" width="29.95" height="166.00" fill="url(#pCHd)" stroke="#000" stroke-width="1.35"/>
<line x1="511.62" y1="171.30" x2="511.62" y2="166.00" stroke="#222" stroke-width="1.3"/>
<line x1="506.32" y1="166.00" x2="516.92" y2="166.00" stroke="#222" stroke-width="1.5"/>
<rect x="536.15" y="167.20" width="32.00" height="170.40" fill="url(#p10d)" stroke="#000" stroke-width="1.35"/>
<line x1="552.15" y1="166.90" x2="552.15" y2="159.50" stroke="#222" stroke-width="1.3"/>
<line x1="546.85" y1="159.50" x2="557.45" y2="159.50" stroke="#222" stroke-width="1.5"/>
<rect x="576.30" y="172.50" width="31.60" height="165.10" fill="url(#p30d)" stroke="#000" stroke-width="1.35"/>
<line x1="592.10" y1="172.20" x2="592.10" y2="162.50" stroke="#222" stroke-width="1.3"/>
<line x1="586.80" y1="162.50" x2="597.40" y2="162.50" stroke="#222" stroke-width="1.5"/>
<rect x="616.65" y="161.70" width="31.85" height="175.90" fill="url(#pSLd)" stroke="#000" stroke-width="1.35"/>
<line x1="632.58" y1="161.40" x2="632.58" y2="148.60" stroke="#222" stroke-width="1.3"/>
<line x1="627.28" y1="148.60" x2="637.88" y2="148.60" stroke="#222" stroke-width="1.5"/>
<line x1="78.6" y1="6.70" x2="78.6" y2="338.40" stroke="#000" stroke-width="1.6"/>
<line x1="77.8" y1="337.6" x2="683.8" y2="337.6" stroke="#000" stroke-width="1.6"/>
<line x1="78.6" y1="337.60" x2="84.60" y2="337.60" stroke="#000" stroke-width="1.5"/>
<line x1="78.6" y1="271.58" x2="84.60" y2="271.58" stroke="#000" stroke-width="1.5"/>
<line x1="78.6" y1="205.56" x2="84.60" y2="205.56" stroke="#000" stroke-width="1.5"/>
<line x1="78.6" y1="139.54" x2="84.60" y2="139.54" stroke="#000" stroke-width="1.5"/>
<line x1="78.6" y1="73.52" x2="84.60" y2="73.52" stroke="#000" stroke-width="1.5"/>
<line x1="78.6" y1="7.50" x2="84.60" y2="7.50" stroke="#000" stroke-width="1.5"/>
<line x1="381.00" y1="337.6" x2="381.00" y2="331.60" stroke="#000" stroke-width="1.5"/>
<line x1="683.00" y1="337.6" x2="683.00" y2="331.60" stroke="#000" stroke-width="1.5"/>
<rect x="268.75" y="13.75" width="9.30" height="8.50" fill="url(#pEU)" stroke="#000" stroke-width="1.3"/>
<rect x="322.25" y="13.75" width="9.30" height="8.50" fill="url(#pAC)" stroke="#000" stroke-width="1.3"/>
<rect x="375.95" y="13.75" width="9.30" height="8.50" fill="url(#pCH)" stroke="#000" stroke-width="1.3"/>
<rect x="430.45" y="13.75" width="9.30" height="8.50" fill="url(#p10)" stroke="#000" stroke-width="1.3"/>
<rect x="531.75" y="13.75" width="9.30" height="8.50" fill="url(#p30)" stroke="#000" stroke-width="1.3"/>
<rect x="632.65" y="13.75" width="9.30" height="8.50" fill="url(#pSL)" stroke="#000" stroke-width="1.3"/>
<text transform="translate(26.35,344.00) scale(1.04,1)" text-rendering="geometricPrecision" font-family="Liberation Serif" font-size="17.2" letter-spacing="0.375" fill="#1a1a1a" stroke="#1a1a1a" stroke-width="0">0.00</text>
<text transform="translate(26.35,278.00) scale(1.04,1)" text-rendering="geometricPrecision" font-family="Liberation Serif" font-size="17.2" letter-spacing="0.375" fill="#1a1a1a" stroke="#1a1a1a" stroke-width="0">0.10</text>
<text transform="translate(26.35,212.00) scale(1.04,1)" text-rendering="geometricPrecision" font-family="Liberation Serif" font-size="17.2" letter-spacing="0.375" fill="#1a1a1a" stroke="#1a1a1a" stroke-width="0">0.20</text>
<text transform="translate(26.35,146.00) scale(1.04,1)" text-rendering="geometricPrecision" font-family="Liberation Serif" font-size="17.2" letter-spacing="0.375" fill="#1a1a1a" stroke="#1a1a1a" stroke-width="0">0.30</text>
<text transform="translate(26.35,80.00) scale(1.04,1)" text-rendering="geometricPrecision" font-family="Liberation Serif" font-size="17.2" letter-spacing="0.375" fill="#1a1a1a" stroke="#1a1a1a" stroke-width="0">0.40</text>
<text transform="translate(26.35,13.00) scale(1.04,1)" text-rendering="geometricPrecision" font-family="Liberation Serif" font-size="17.2" letter-spacing="0.375" fill="#1a1a1a" stroke="#1a1a1a" stroke-width="0">0.50</text>
<text transform="translate(281.78,24.00) scale(1.04,1)" text-rendering="geometricPrecision" font-family="Liberation Serif" font-size="17.2" letter-spacing="1.269" fill="#1a1a1a" stroke="#1a1a1a" stroke-width="0">EU</text>
<text transform="translate(336.17,24.00) scale(1.04,1)" text-rendering="geometricPrecision" font-family="Liberation Serif" font-size="17.2" letter-spacing="0.135" fill="#1a1a1a" stroke="#1a1a1a" stroke-width="0">AC</text>
<text transform="translate(389.82,24.00) scale(1.04,1)" text-rendering="geometricPrecision" font-family="Liberation Serif" font-size="17.2" letter-spacing="-0.413" fill="#1a1a1a" stroke="#1a1a1a" stroke-width="0">CH</text>
<text transform="translate(444.04,24.00) scale(1.04,1)" text-rendering="geometricPrecision" font-family="Liberation Serif" font-size="17.2" letter-spacing="0.100" fill="#1a1a1a" stroke="#1a1a1a" stroke-width="0">10-Mixed</text>
<text transform="translate(545.09,24.00) scale(1.04,1)" text-rendering="geometricPrecision" font-family="Liberation Serif" font-size="17.2" letter-spacing="0.148" fill="#1a1a1a" stroke="#1a1a1a" stroke-width="0">30-Mixed</text>
<text transform="translate(646.53,24.00) scale(1.04,1)" text-rendering="geometricPrecision" font-family="Liberation Serif" font-size="17.2" letter-spacing="0.202" fill="#1a1a1a" stroke="#1a1a1a" stroke-width="0">SL</text>
<text transform="translate(188.00,365.00) scale(0.98,1)" text-rendering="geometricPrecision" font-family="Liberation Serif" font-size="18.0" letter-spacing="0.518" fill="#1a1a1a" stroke="#1a1a1a" stroke-width="0">Wet season</text>
<text transform="translate(490.81,365.00) scale(0.98,1)" text-rendering="geometricPrecision" font-family="Liberation Serif" font-size="18.0" letter-spacing="0.345" fill="#1a1a1a" stroke="#1a1a1a" stroke-width="0">Dry season</text>
<text transform="translate(481.00,67.00) scale(1.0,1)" text-rendering="geometricPrecision" font-family="Liberation Serif" font-size="19.4" letter-spacing="0.457" fill="#1a1a1a" stroke="#1a1a1a" stroke-width="0">Plantation: <tspan font-style="italic">p</tspan>=0.105</text>
<text transform="translate(488.65,91.00) scale(1.0,1)" text-rendering="geometricPrecision" font-family="Liberation Serif" font-size="19.4" letter-spacing="0.482" fill="#1a1a1a" stroke="#1a1a1a" stroke-width="0">Season: <tspan font-style="italic">p</tspan>&lt;<tspan font-weight="bold">0.0001</tspan></text>
<text transform="translate(478.15,113.00) scale(1.0,1)" text-rendering="geometricPrecision" font-family="Liberation Serif" font-size="19.4" letter-spacing="0.489" fill="#1a1a1a" stroke="#1a1a1a" stroke-width="0">Interaction: <tspan font-style="italic">p</tspan>=0.800</text>
<text transform="translate(15.00,255.38) rotate(-90) scale(1.0,1)" text-rendering="geometricPrecision" font-family="Liberation Serif" font-size="20" letter-spacing="0.299" fill="#1a1a1a" stroke="#1a1a1a" stroke-width="0">Soil Water Contents</text>
<text transform="translate(125.90,106.00) scale(0.92,1)" text-rendering="geometricPrecision" font-family="Liberation Serif" font-size="19.0" fill="#1a1a1a" stroke="#1a1a1a" stroke-width="0">a</text>
<text transform="translate(166.23,121.00) scale(0.92,1)" text-rendering="geometricPrecision" font-family="Liberation Serif" font-size="19.0" fill="#1a1a1a" stroke="#1a1a1a" stroke-width="0">a</text>
<text transform="translate(205.93,87.00) scale(0.92,1)" text-rendering="geometricPrecision" font-family="Liberation Serif" font-size="19.0" fill="#1a1a1a" stroke="#1a1a1a" stroke-width="0">a</text>
<text transform="translate(246.50,93.00) scale(0.92,1)" text-rendering="geometricPrecision" font-family="Liberation Serif" font-size="19.0" fill="#1a1a1a" stroke="#1a1a1a" stroke-width="0">a</text>
<text transform="translate(286.38,112.00) scale(0.92,1)" text-rendering="geometricPrecision" font-family="Liberation Serif" font-size="19.0" fill="#1a1a1a" stroke="#1a1a1a" stroke-width="0">a</text>
<text transform="translate(326.60,110.00) scale(0.92,1)" text-rendering="geometricPrecision" font-family="Liberation Serif" font-size="19.0" fill="#1a1a1a" stroke="#1a1a1a" stroke-width="0">a</text>
<text transform="translate(427.52,164.00) scale(0.92,1)" text-rendering="geometricPrecision" font-family="Liberation Serif" font-size="19.0" fill="#1a1a1a" stroke="#1a1a1a" stroke-width="0">a</text>
<text transform="translate(467.93,186.00) scale(0.92,1)" text-rendering="geometricPrecision" font-family="Liberation Serif" font-size="19.0" fill="#1a1a1a" stroke="#1a1a1a" stroke-width="0">b</text>
<text transform="translate(508.00,159.00) scale(0.92,1)" text-rendering="geometricPrecision" font-family="Liberation Serif" font-size="19.0" fill="#1a1a1a" stroke="#1a1a1a" stroke-width="0">a</text>
<text transform="translate(548.52,155.00) scale(0.92,1)" text-rendering="geometricPrecision" font-family="Liberation Serif" font-size="19.0" fill="#1a1a1a" stroke="#1a1a1a" stroke-width="0">a</text>
<text transform="translate(588.47,158.00) scale(0.92,1)" text-rendering="geometricPrecision" font-family="Liberation Serif" font-size="19.0" fill="#1a1a1a" stroke="#1a1a1a" stroke-width="0">a</text>
<text transform="translate(628.95,147.00) scale(0.92,1)" text-rendering="geometricPrecision" font-family="Liberation Serif" font-size="19.0" fill="#1a1a1a" stroke="#1a1a1a" stroke-width="0">a</text>
</svg></body></html>
